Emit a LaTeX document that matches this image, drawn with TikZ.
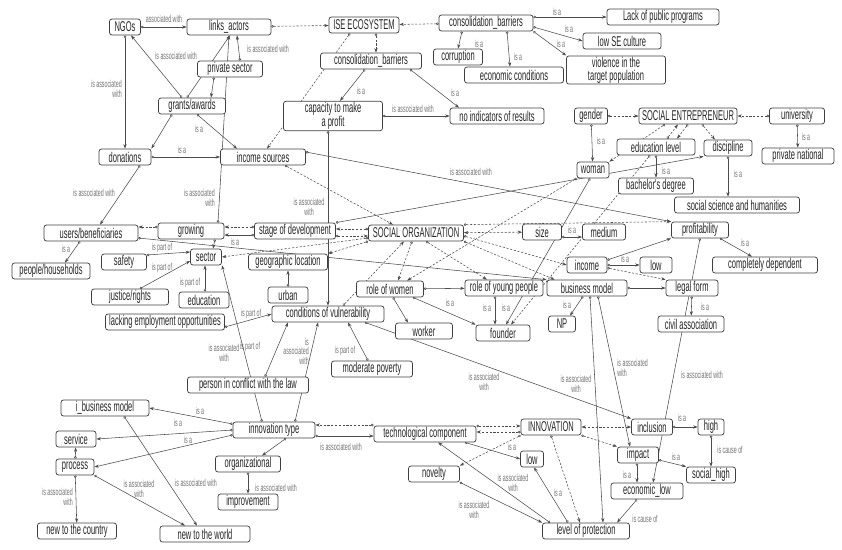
\documentclass[tikz,border=0pt]{standalone}
\usepackage{fontspec}
\newfontfamily\cmapfont{Liberation Sans}[FakeStretch=0.53]
\usetikzlibrary{arrows.meta,backgrounds}
\begin{document}
\begin{tikzpicture}[x=1pt,y=-1pt,line join=round,line cap=round,
  box/.style={draw=black!75,fill=white,rounded corners=2.5pt,line width=.75pt,minimum height=16pt,
    inner xsep=2pt,inner ysep=1pt,align=center,font=\cmapfont\fontsize{14.2}{13}\selectfont,text=black!85},
  lk/.style={draw=black!70,line width=.55pt,arrows={Circle[open,length=2.6pt,width=2.6pt]}-{Stealth[length=4.5pt,width=3.2pt]}},
  lkd/.style={lk,dash pattern=on 2.2pt off 1.6pt},
  lkb/.style={lkd,arrows={Stealth[length=4.5pt,width=3.2pt]}-{Stealth[length=4.5pt,width=3.2pt]}},
  lbl/.style={font=\cmapfont\fontsize{10}{9.5}\selectfont,text=black!55,inner sep=0pt,align=center}]
\useasboundingbox (0,0) rectangle (842,549);
\foreach \n/\x/\y/\w/\t in {ngos/125/27/31/NGOs, links/229/27/84/links\_actors, ise/364/25/70/ISE ECOSYSTEM,
  cbA/486/23/94/consolidation\_barriers, lack/663/17/112/Lack of public programs, lowse/622/41/78/low SE culture,
  corrupt/458/57/49/corruption, econ/514/75/99/economic conditions, cbB/371/61/101/consolidation\_barriers,
  private/230/69/65/private sector, grants/192/106/67/{grants/awards}, noind/497/116/94/no indicators of results,
  donations/125/157/52/donations, income/263/157/85/income sources, gender/591/116/33/gender,
  se/688/116/98/SOCIAL ENTREPRENEUR, univ/797/116/55/university, edu/656/147/78/education level,
  disc/728/148/48/discipline, privnat/798/156/72/private national, woman/593/170/32/woman,
  bach/656/186/75/bachelor's degree, social/737/205/125/social science and humanities,
  profit/700/230/57/profitability, medium/604/232/43/medium, size/542/232/39/size,
  so/416/233/95/SOCIAL ORGANIZATION, stage/295/231/81/stage of development, growing/191/231/66/growing,
  users/91/233/94/{users/beneficiaries}, people/51/271/78/{people/households}, safety/124/262/45/safety,
  sector/206/257/31/sector, geo/288/262/79/geographic location, justice/130/297/77/{justice/rights},
  education/204/300/50/education, urban/288/295/40/urban, lacking/165/322/119/lacking employment opportunities,
  cond/328/314/112/conditions of vulnerability, rwomen/390/289/67/role of women,
  ryoung/504/288/78/role of young people, bm/587/288/80/business model, incomeB/587/265/40/income,
  lowA/656/265/32/low, compl/765/265/105/completely dependent, legal/692/288/52/legal form,
  civil/691/324/66/civil association, np/562/324/27/NP, worker/424/331/57/worker, founder/503/333/54/founder,
  modpov/372/369/81/moderate poverty, person/248/385/121/person in conflict with the law,
  itype/274/430/82/innovation type, tech/425/434/102/technological component, innov/551/427/60/INNOVATION,
  inclusion/652/427/41/inclusion, high/711/427/26/high, impact/638/455/41/impact,
  socialhigh/711/475/49/social\_high, econlow/647/491/72/economic\_low, lowB/532/459/23/low,
  novelty/434/474/51/novelty, level/586/531/87/level of protection, ibm/105/408/88/i\_business model,
  service/76/439/40/service, process/75/467/38/process, org/248/464/65/organizational,
  improve/248/502/60/improvement, newc/77/531/79/new to the country, neww/205/534/90/new to the world}
  \node[box,minimum width=\w pt] (\n) at (\x,\y) {\t};
\node[box,minimum width=99pt,minimum height=27pt] (violence) at (616,70) {violence in the\\target population};
\node[box,minimum width=99pt,minimum height=29pt] (capacity) at (333,116) {capacity to make\\a profit};
\begin{scope}[on background layer]
\draw[lk] (ngos) -- (links) node[lbl] at (164,19) {associated with};
\draw[lkd] (links) -- (ise);
\draw[lk] ([xshift=-10]grants.north) -- ([xshift=6]ngos.south) node[lbl] at (176,56) {is associated with};
\draw[lk] (ngos) -- (donations) node[lbl,align=right,anchor=east] at (122,89) {is associated\\with};
\draw[lk] ([xshift=10]private.north) -- ([xshift=8]links.south) node[lbl] at (268,49) {is associated with};
\draw[lk] ([xshift=-5]grants.north) -- ([xshift=1]links.south);
\draw[lk] ([xshift=-16]private.south) -- ([xshift=19]grants.north);
\draw[lk] ([xshift=-20]grants.south) -- (donations.north east);
\draw[lk] ([xshift=5]grants.south) -- ([xshift=-26]income.north) node[lbl] at (199,129) {is a};
\draw[lk] (donations) -- (income) node[lbl] at (182,150) {is a};
\draw[lk] ([xshift=15]donations.south) -- ([xshift=9]users.north) node[lbl] at (94,193) {is associated with};
\draw[lk] ([xshift=-11]users.south) -- ([xshift=14]people.north) node[lbl] at (66,249) {is a};
\draw[lkd] ([xshift=-14]ise.south) -- ([xshift=4]income.north);
\draw[lkd] ([xshift=12]ise.south) -- ([xshift=5]cbB.north);
\draw[lkd] (cbA) -- (ise);
\draw[lk] ([yshift=6]cbA.east) -- (lack.west) node[lbl] at (557,12) {is a};
\draw[lk] ([yshift=-4]cbA.east) -- (lowse.west) node[lbl] at (569,29) {is a};
\draw[lk] (cbA.south east) -- (violence.north west) node[lbl] at (561,44) {is a};
\draw[lk] ([xshift=-24]cbA.south) -- (corrupt.north) node[lbl] at (479,44) {is a};
\draw[lk] ([xshift=21]cbA.south) -- ([xshift=-4]econ.north) node[lbl] at (518,57) {is a};
\draw[lk] ([xshift=-6]cbB.south) -- ([xshift=7]capacity.north) node[lbl] at (361,91) {is a};
\draw[lk] ([xshift=39]cbB.south) -- ([xshift=-38]noind.north) node[lbl] at (455,93) {is a};
\draw[lk] (capacity) -- (noind) node[lbl] at (413,109) {is associated with};
\draw[lk] ([xshift=-5]capacity.south) -- (cond.north) node[lbl] at (309,207) {is associated\\with};
\draw[lkd] ([xshift=22]income.south) -- ([xshift=-23]so.north);
\draw[lk] ([yshift=5]income.east) -- (profit.north west) node[lbl] at (471,172) {is associated with};
\draw[lk] ([xshift=27]growing.north) -- (links.south) node[lbl,align=right,anchor=east] at (215,198) {is associated\\with};
\draw[lkd] ([yshift=4]stage.west) -- ([yshift=4]growing.east);
\draw[lk] ([yshift=-4]stage.west) -- ([yshift=-4]growing.east) node[lbl] at (235,242) {is a};
\draw[lkd] ([yshift=4]growing.west) -- ([yshift=6]users.east);
\draw[lk] ([xshift=24]growing.south) -- ([xshift=7]sector.north);
\draw[lk] ([yshift=-5]users.east) -- (bm.north west);
\draw[lkd] ([yshift=-5]so.west) -- (sector.east);
\draw[lkd] (so.south west) -- (geo.north east);
\draw[lkd] ([yshift=4]so.west) -- ([yshift=2]stage.east);
\draw[lkd] ([yshift=-5]stage.east) -- ([yshift=-3]so.west);
\draw[lk] (stage.north east) -- (disc.south west);
\draw[lkb] (so) -- (size);
\draw[lk] ([yshift=-5]size.east) -- ([yshift=-5]medium.west) node[lbl] at (572,230) {is a};
\draw[lkd] (so.north east) -- (profit.north west);
\draw[lkd] ([yshift=-3]so.east) -- (incomeB.west);
\draw[lkd] (so.south east) -- ([xshift=8]bm.north west);
\draw[lkd] ([xshift=10]so.south) -- ([xshift=-17]ryoung.north);
\draw[lkd] ([xshift=-4]so.south) -- ([xshift=8]rwomen.north);
\draw[lkd] ([xshift=15]cond.north) -- ([xshift=-12]so.south);
\draw[lkd] (woman.south west) -- ([xshift=17]rwomen.north);
\draw[lk] ([xshift=-3]woman.south) -- ([xshift=3]founder.north) node[lbl] at (506,308) {is a};
\draw[lkd] ([xshift=-6]edu.south) -- ([xshift=8]founder.north);
\draw[lk] ([xshift=-9]ryoung.south) -- ([xshift=-8]founder.north) node[lbl] at (487,308) {is a};
\draw[lk] (rwomen) -- (ryoung);
\draw[lk] ([xshift=3]rwomen.south) -- ([xshift=-16]worker.north);
\draw[lk] ([xshift=23]rwomen.south) -- (founder.north west) node[lbl] at (450,303) {is a};
\draw[lk] ([xshift=37]cond.south) -- (inclusion.north west) node[lbl] at (484,382) {is associated\\with};
\draw[lk] ([yshift=-5]lacking.east) -- (cond.west) node[lbl] at (251,314) {is part of};
\draw[lk] (urban) -- (geo);
\draw[lk] ([xshift=17]person.north) -- ([xshift=-40]cond.south) node[lbl] at (250,347) {is part of};
\draw[lk] ([xshift=21]itype.north) -- ([xshift=-10]cond.south) node[lbl,align=right,anchor=east] at (309,351) {is\\associated\\with};
\draw[lk] ([xshift=-4]modpov.north) -- ([xshift=20]cond.south) node[lbl] at (345,351) {is part of};
\draw[lk] ([xshift=-12]itype.north) -- ([xshift=16]sector.south) node[lbl] at (224,353) {is associated\\with};
\draw[lk] ([yshift=7]safety.east) -- ([yshift=5]sector.west) node[lbl] at (162,248) {is part of};
\draw[lk] ([xshift=10]justice.north) -- ([yshift=-4]sector.west) node[lbl] at (162,268) {is part of};
\draw[lk] ([xshift=1]education.north) -- ([xshift=-1]sector.south) node[lbl] at (190,283) {is part of};
\draw[lk] ([yshift=6]itype.west) -- (ibm.east) node[lbl] at (200,411) {is a};
\draw[lk] (itype.west) -- (service.east) node[lbl] at (178,423) {is a};
\draw[lk] ([yshift=-5]itype.west) -- (process.east) node[lbl] at (188,440) {is a};
\draw[lk] ([xshift=12]itype.south) -- ([xshift=14]org.north);
\draw[lk] (org) -- (improve) node[lbl] at (276,488) {is associated with};
\draw[lk] (process) -- (service);
\draw[lk] (process) -- (newc) node[lbl,align=right,anchor=east] at (73,497) {is associated\\with};
\draw[lk] (process.south east) -- ([xshift=-20]neww.north) node[lbl] at (139,489) {is associated\\with};
\draw[lk] ([xshift=19]ibm.south) -- ([xshift=-8]neww.north) node[lbl] at (196,483) {is associated with};
\draw[lkd] ([yshift=9]tech.west) -- ([yshift=5]itype.east);
\draw[lk] ([yshift=-6]itype.east) -- ([yshift=-2]tech.west) node[lbl] at (341,447) {is associated with};
\draw[lkd] ([yshift=8]tech.east) -- ([yshift=1]innov.west);
\draw[lkd] ([yshift=-5]innov.west) -- ([yshift=2]tech.east);
\draw[lk] ([xshift=40]tech.south) -- (lowB.west) node[lbl] at (512,447) {is a};
\draw[lkd] (innov.south west) -- (novelty.north east);
\draw[lk] (novelty.south east) -- (level.north west) node[lbl] at (474,510) {is associated\\with};
\draw[lk] ([xshift=-36]level.north) -- ([xshift=13]tech.south) node[lbl] at (513,483) {is associated\\with};
\draw[lk] ([xshift=-18]level.north) -- ([xshift=2]lowB.south) node[lbl] at (558,493) {is a};
\draw[lkd] (innov.south) -- ([xshift=-6]level.north);
\draw[lkb] (innov) -- (inclusion);
\draw[lkd] (innov.south east) -- (impact.north west);
\draw[lk] (inclusion) -- (high) node[lbl] at (682,418) {is a};
\draw[lk] (high) -- (socialhigh) node[lbl] at (730,450) {is cause of};
\draw[lk] ([yshift=-5]impact.east) -- (socialhigh.north west) node[lbl] at (676,457) {is a};
\draw[lk] ([xshift=-1]impact.south) -- ([xshift=-10]econlow.north) node[lbl] at (627,475) {is a};
\draw[lk] ([xshift=-10]econlow.south) -- ([xshift=31]level.north) node[lbl] at (645,519) {is cause of};
\draw[lk] ([xshift=11]bm.south) -- ([xshift=-8]impact.north) node[lbl,align=left,anchor=west] at (617,368) {is associated\\with};
\draw[lk] ([xshift=3]bm.south) -- ([xshift=17]level.north) node[lbl] at (576,384) {is associated\\with};
\draw[lk] (profit.south) -- ([xshift=6]econlow.north) node[lbl] at (702,375) {is associated with};
\draw[lk] ([xshift=20]profit.south) -- ([xshift=-13]compl.north) node[lbl] at (745,243) {is a};
\draw[lk] ([yshift=5]incomeB.east) -- (profit.south west);
\draw[lk] (incomeB) -- (lowA) node[lbl] at (625,259) {is a};
\draw[lkd] ([yshift=-3]incomeB.east) -- (legal.north west);
\draw[lk] (bm) -- (legal);
\draw[lk] (legal) -- (civil) node[lbl] at (705,307) {is a};
\draw[lk] ([xshift=-4]bm.south) -- ([xshift=8]np.north) node[lbl] at (567,305) {is a};
\draw[lkd] (gender) -- (se);
\draw[lkd] (univ) -- (se);
\draw[lkd] ([xshift=-23]se.south) -- (woman.north east);
\draw[lkd] ([xshift=11]edu.north) -- ([xshift=-10]se.south);
\draw[lkd] (se.south) -- ([xshift=21]edu.north);
\draw[lkd] ([xshift=14]se.south) -- ([xshift=-13]disc.north);
\draw[lk] (gender) -- (woman) node[lbl] at (601,141) {is a};
\draw[lk] (univ) -- (privnat) node[lbl] at (806,137) {is a};
\draw[lk] (edu) -- (bach) node[lbl] at (666,171) {is a};
\draw[lk] (disc) -- ([xshift=-9]social.north) node[lbl] at (738,174) {is a};
\end{scope}
\end{tikzpicture}
\end{document}
